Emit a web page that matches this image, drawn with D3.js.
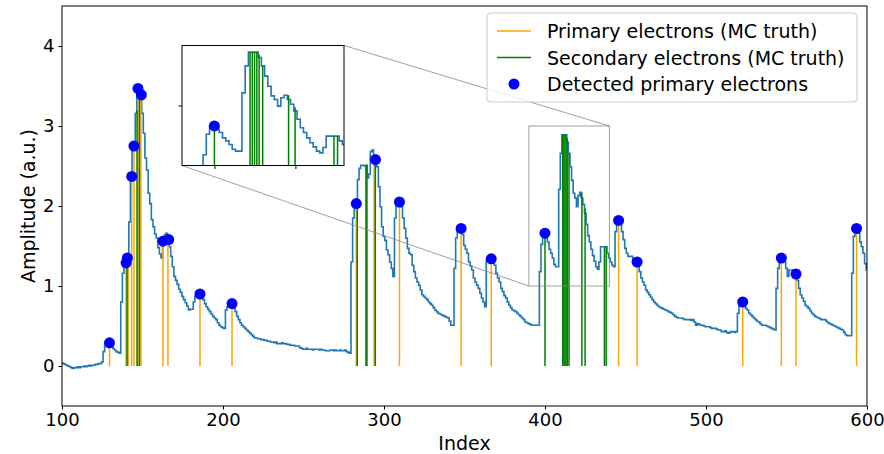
<!DOCTYPE html>
<html><head><meta charset="utf-8">
<script src="https://cdn.jsdelivr.net/npm/d3@7"></script>
<style>body{margin:0;background:#fff} text{font-family:"DejaVu Sans",sans-serif}</style>
</head><body><svg id="c" width="884" height="454"></svg>
<script>
// ---------------- DATA ----------------
const waveStart = 100; // index of first waveform sample (one sample per index)
const waveform = [
0.04,0.03,0.02,0.01,0.00,-0.01,-0.02,-0.03,-0.02,-0.02,
-0.01,-0.02,-0.01,-0.01,0.00,-0.01,0.00,0.01,0.00,0.01,
0.01,0.02,0.02,0.03,0.03,0.05,0.18,0.26,0.28,0.29,
0.28,0.25,0.22,0.20,0.18,0.17,0.16,0.80,1.16,1.30,
1.29,1.35,1.80,2.37,2.75,2.75,3.16,3.47,3.47,3.39,
3.16,2.91,2.60,2.45,2.16,2.03,1.83,1.74,1.65,1.60,
1.48,1.40,1.35,1.56,1.64,1.66,1.58,1.49,1.37,1.24,
1.12,1.07,1.02,0.96,0.92,0.87,0.83,0.79,0.75,0.70,
0.71,0.71,0.80,0.87,0.91,0.91,0.90,0.88,0.83,0.78,
0.74,0.71,0.68,0.65,0.62,0.60,0.58,0.54,0.51,0.49,
0.48,0.47,0.70,0.74,0.76,0.78,0.77,0.72,0.68,0.62,
0.58,0.54,0.51,0.49,0.47,0.45,0.43,0.41,0.39,0.37,
0.35,0.35,0.34,0.34,0.33,0.33,0.32,0.32,0.31,0.31,
0.30,0.30,0.29,0.30,0.28,0.28,0.28,0.29,0.28,0.28,
0.27,0.27,0.26,0.26,0.26,0.25,0.25,0.25,0.23,0.22,
0.21,0.21,0.22,0.21,0.21,0.21,0.20,0.21,0.21,0.21,
0.20,0.21,0.20,0.20,0.19,0.19,0.19,0.20,0.20,0.19,
0.20,0.19,0.19,0.20,0.19,0.19,0.20,0.18,0.17,0.16,
1.30,1.85,2.03,2.03,2.33,2.47,2.51,2.51,2.50,2.50,
2.35,2.40,2.68,2.70,2.62,2.57,2.49,2.24,1.99,1.74,
1.62,1.57,1.45,1.39,1.30,1.22,1.12,1.85,2.01,2.06,
2.05,1.99,1.85,1.72,1.60,1.47,1.41,1.39,1.26,1.18,
1.10,1.05,1.01,0.95,0.89,0.87,0.85,0.83,0.80,0.78,
0.76,0.73,0.70,0.68,0.66,0.65,0.64,0.63,0.62,0.61,
0.60,0.56,0.51,0.51,1.22,1.60,1.70,1.72,1.72,1.64,
1.51,1.46,1.41,1.30,1.25,1.20,1.10,1.05,1.01,0.97,
0.91,0.85,0.80,0.74,1.32,1.34,1.34,1.34,1.30,1.26,
1.16,1.10,1.05,0.97,0.93,0.88,0.85,0.80,0.76,0.73,
0.70,0.69,0.68,0.66,0.64,0.62,0.60,0.58,0.55,0.54,
0.53,0.52,0.51,0.51,0.51,0.51,0.51,1.18,1.52,1.66,
1.66,1.60,1.55,1.46,1.41,1.35,1.27,1.24,1.24,2.21,
2.66,2.89,2.89,2.89,2.80,2.66,2.49,2.32,2.16,2.10,
1.99,2.13,2.17,2.10,2.02,1.91,1.77,1.63,1.55,1.46,
1.38,1.31,1.24,1.21,1.30,1.49,1.49,1.49,1.49,1.41,
1.35,1.30,1.26,1.24,1.68,1.80,1.82,1.80,1.68,1.58,
1.47,1.41,1.37,1.37,1.37,1.32,1.30,1.30,1.30,1.18,
1.10,1.05,1.01,0.95,0.92,0.89,0.86,0.83,0.80,0.78,
0.76,0.74,0.73,0.72,0.71,0.70,0.69,0.68,0.67,0.66,
0.64,0.62,0.61,0.60,0.60,0.60,0.59,0.58,0.58,0.58,
0.58,0.57,0.58,0.55,0.51,0.53,0.52,0.51,0.51,0.50,
0.49,0.49,0.49,0.48,0.47,0.47,0.47,0.46,0.45,0.45,
0.43,0.43,0.44,0.42,0.41,0.42,0.43,0.43,0.42,0.43,
0.66,0.78,0.80,0.80,0.76,0.72,0.70,0.66,0.64,0.62,
0.60,0.58,0.56,0.55,0.53,0.51,0.51,0.51,0.50,0.49,
0.48,0.47,0.46,0.45,0.97,1.22,1.35,1.35,1.35,1.30,
1.22,1.12,1.20,1.20,1.20,1.18,1.15,1.07,0.97,0.89,
0.85,0.81,0.76,0.74,0.72,0.69,0.66,0.64,0.62,0.61,
0.60,0.59,0.58,0.58,0.58,0.56,0.54,0.53,0.52,0.51,
0.50,0.49,0.48,0.47,0.46,0.45,0.42,0.39,0.38,0.38,
0.38,1.16,1.62,1.72,1.72,1.66,1.55,1.49,1.41,1.28,
1.20
];

const primaryIndex = [129.5,139.8,141.1,143.3,144.7,147.2,149.0,162.7,165.8,185.7,205.6,282.8,293.8,309.6,347.9,366.6,445.7,457.2,522.8,546.8,555.9,593.5];
const primaryAmp   = [0.29,1.29,1.35,2.37,2.75,3.47,3.39,1.56,1.58,0.90,0.78,2.03,2.66,2.05,1.72,1.34,1.82,1.30,0.80,1.35,1.15,1.72];

const secondaryIndex = [140.4,146.6,148.1,283.4,288.8,289.4,294.6,400.0,411.0,411.7,412.4,413.1,413.8,414.9,422.9,424.9,436.9,438.0];
const secondaryAmp   = [1.33,3.20,3.45,2.05,2.52,2.52,2.60,1.66,2.89,2.89,2.89,2.89,2.85,2.66,2.17,1.97,1.49,1.49];

const detectedIndex = [129.5,139.8,140.6,143.3,144.7,147.2,149.3,162.7,166.3,185.7,205.6,282.8,294.7,309.6,347.9,366.6,400.0,445.7,457.2,522.8,546.8,555.9,593.5];
const detectedAmp   = [0.29,1.29,1.35,2.37,2.75,3.47,3.39,1.56,1.58,0.90,0.78,2.03,2.58,2.05,1.72,1.34,1.66,1.82,1.30,0.80,1.35,1.15,1.72];

const xTicks = [100,200,300,400,500,600];
const yTicks = [0,1,2,3,4];
const insetXTicks = [400,425];
const insetYTicks = [2];
const xDomain = [100,600], yDomain = [-0.5,4.5];
const insetXDomain = [390,440], insetYDomain = [1,3];
const legendLabels = ["Primary electrons (MC truth)","Secondary electrons (MC truth)","Detected primary electrons"];

// ---------------- DRAW ----------------
const C_WAVE = "#1f77b4", C_PRIM = "orange", C_SEC = "green", C_DET = "#0000ff";
const FS = 19, FS_TICK = 18;
const svg = d3.select("#c");
const pl = {l:62, r:867, t:6, b:406};
const x = d3.scaleLinear().domain(xDomain).range([pl.l, pl.r]);
const y = d3.scaleLinear().domain(yDomain).range([pl.b, pl.t]);

const pts = waveform.map((v,k)=>[waveStart+k, v]);
const prim = primaryIndex.map((d,k)=>[d, primaryAmp[k]]);
const sec = secondaryIndex.map((d,k)=>[d, secondaryAmp[k]]);
const det = detectedIndex.map((d,k)=>[d, detectedAmp[k]]);

const defs = svg.append("defs");
defs.append("clipPath").attr("id","clipMain").append("rect")
  .attr("x",pl.l).attr("y",pl.t).attr("width",pl.r-pl.l).attr("height",pl.b-pl.t);

function drawContent(g, xs, ys, r) {
  g.append("path").datum(pts)
    .attr("d", d3.line().x(d=>xs(d[0])).y(d=>ys(d[1])).curve(d3.curveStep))
    .attr("fill","none").attr("stroke",C_WAVE).attr("stroke-width",1.6);
  g.selectAll(null).data(prim).enter().append("line")
    .attr("x1",d=>xs(d[0])).attr("x2",d=>xs(d[0]))
    .attr("y1",ys(0)).attr("y2",d=>ys(d[1]))
    .attr("stroke",C_PRIM).attr("stroke-width",1.5);
  g.selectAll(null).data(sec).enter().append("line")
    .attr("x1",d=>xs(d[0])).attr("x2",d=>xs(d[0]))
    .attr("y1",ys(0)).attr("y2",d=>ys(d[1]))
    .attr("stroke",C_SEC).attr("stroke-width",1.5);
  g.selectAll(null).data(det).enter().append("circle")
    .attr("cx",d=>xs(d[0])).attr("cy",d=>ys(d[1])).attr("r",r)
    .attr("fill",C_DET);
}

const gMain = svg.append("g").attr("clip-path","url(#clipMain)");
drawContent(gMain, x, y, 5.5);

// axes
const gx = svg.append("g").attr("transform",`translate(0,${pl.b})`)
  .call(d3.axisBottom(x).tickValues(xTicks).tickSize(3.5).tickPadding(4).tickFormat(d3.format("d")));
const gy = svg.append("g").attr("transform",`translate(${pl.l},0)`)
  .call(d3.axisLeft(y).tickValues(yTicks).tickSize(3.5).tickPadding(4).tickFormat(d3.format("d")));
[gx,gy].forEach(g=>{
  g.select(".domain").remove();
  g.selectAll(".tick line").attr("stroke","#000").attr("stroke-width",1);
  g.selectAll(".tick text").attr("fill","#000").style("font-size",FS_TICK+"px").style("font-family","DejaVu Sans");
});
svg.append("rect").attr("x",pl.l).attr("y",pl.t).attr("width",pl.r-pl.l).attr("height",pl.b-pl.t)
  .attr("fill","none").attr("stroke","#000").attr("stroke-width",1);

svg.append("text").attr("x",(pl.l+pl.r)/2).attr("y",443).attr("text-anchor","middle")
  .attr("dominant-baseline","central").style("font-size",FS+"px").text("Index");
svg.append("text").attr("transform",`translate(28,${(pl.t+pl.b)/2}) rotate(-90)`)
  .attr("text-anchor","middle").attr("dominant-baseline","central").style("font-size",FS+"px")
  .text("Amplitude (a.u.)");

// inset indicator
const ip = {l:182, r:344, t:45.5, b:165.5};
const bx0 = x(insetXDomain[0]), bx1 = x(insetXDomain[1]);
const by0 = y(insetYDomain[1]), by1 = y(insetYDomain[0]);
const gInd = svg.append("g").attr("stroke","#808080").attr("stroke-opacity",0.75).attr("fill","none").attr("stroke-width",1);
gInd.append("rect").attr("x",bx0).attr("y",by0).attr("width",bx1-bx0).attr("height",by1-by0);
gInd.append("line").attr("x1",ip.r).attr("y1",ip.t).attr("x2",bx1).attr("y2",by0);
gInd.append("line").attr("x1",ip.l).attr("y1",ip.b).attr("x2",bx0).attr("y2",by1);

// inset
const ix = d3.scaleLinear().domain(insetXDomain).range([ip.l, ip.r]);
const iy = d3.scaleLinear().domain(insetYDomain).range([ip.b, ip.t]);
defs.append("clipPath").attr("id","clipInset").append("rect")
  .attr("x",ip.l).attr("y",ip.t).attr("width",ip.r-ip.l).attr("height",ip.b-ip.t);
svg.append("rect").attr("x",ip.l).attr("y",ip.t).attr("width",ip.r-ip.l).attr("height",ip.b-ip.t).attr("fill","#fff");
const gIn = svg.append("g").attr("clip-path","url(#clipInset)");
drawContent(gIn, ix, iy, 5.5);
const gix = svg.append("g").attr("transform",`translate(0,${ip.b})`)
  .call(d3.axisBottom(ix).tickValues(insetXTicks).tickSize(3.5).tickFormat(""));
const giy = svg.append("g").attr("transform",`translate(${ip.l},0)`)
  .call(d3.axisLeft(iy).tickValues(insetYTicks).tickSize(3.5).tickFormat(""));
[gix,giy].forEach(g=>{ g.select(".domain").remove(); g.selectAll(".tick line").attr("stroke","#000"); });
svg.append("rect").attr("x",ip.l).attr("y",ip.t).attr("width",ip.r-ip.l).attr("height",ip.b-ip.t)
  .attr("fill","none").attr("stroke","#000").attr("stroke-width",1);

// legend
const lg = svg.append("g");
lg.append("rect").attr("x",487).attr("y",13).attr("width",370).attr("height",89).attr("rx",4)
  .attr("fill","#fff").attr("fill-opacity",0.8).attr("stroke","#cccccc").attr("stroke-width",1);
const rowY = [31,57.5,84];
const legendColors = [C_PRIM, C_SEC, C_DET];
legendLabels.forEach((lab,k)=>{
  if (k<2) lg.append("line").attr("x1",497).attr("x2",531).attr("y1",rowY[k]).attr("y2",rowY[k])
      .attr("stroke",legendColors[k]).attr("stroke-width",1.5);
  else lg.append("circle").attr("cx",514).attr("cy",rowY[k]).attr("r",5.5).attr("fill",legendColors[k]);
  lg.append("text").attr("x",547).attr("y",rowY[k]).attr("dominant-baseline","central")
    .style("font-size",FS+"px").text(lab);
});
</script></body></html>
